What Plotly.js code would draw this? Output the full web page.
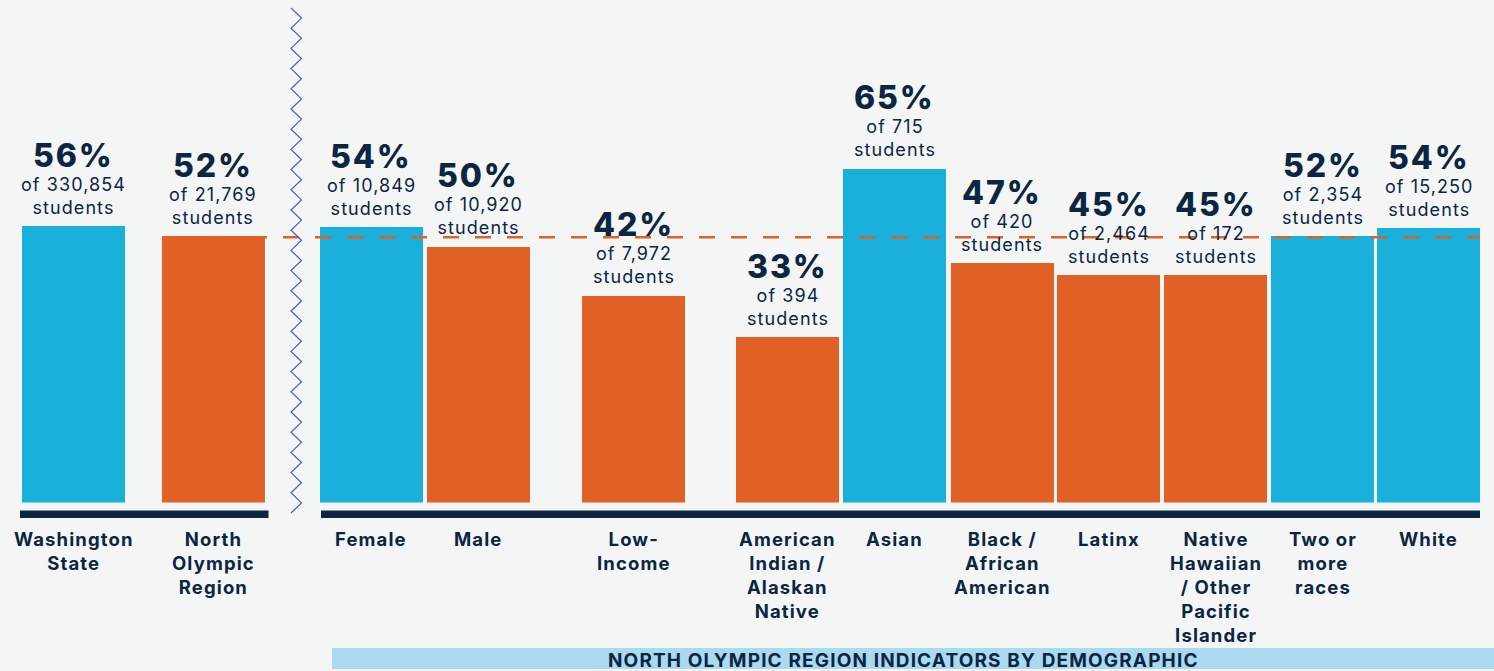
<!DOCTYPE html>
<html>
<head>
<meta charset="utf-8">
<script src="https://cdn.plot.ly/plotly-3.0.1.min.js"></script>
<style>
  html, body { margin: 0; padding: 0; background: #f4f6f5; }
  #chart { width: 1494px; height: 671px; }
  .annotation-text { letter-spacing: 0.06em; }
</style>
</head>
<body>
<div id="chart"></div>
<script>
// ---------- DATA ----------
const categories = [
  "Washington<br>State",
  "North<br>Olympic<br>Region",
  "Female",
  "Male",
  "Low-<br>Income",
  "American<br>Indian /<br>Alaskan<br>Native",
  "Asian",
  "Black /<br>African<br>American",
  "Latinx",
  "Native<br>Hawaiian<br>/ Other<br>Pacific<br>Islander",
  "Two or<br>more<br>races",
  "White"
];
// percentages as printed above the bars
const percentLabels = [56, 52, 54, 50, 42, 33, 65, 47, 45, 45, 52, 54];
// bar heights as drawn in the picture (percent)
const barHeights = [54.2, 52.25, 54.0, 50.1, 40.5, 32.45, 65.4, 46.95, 44.6, 44.6, 52.25, 53.8];
const studentCounts = ["330,854", "21,769", "10,849", "10,920", "7,972", "394", "715", "420", "2,464", "172", "2,354", "15,250"];
// blue = at/above the region rate, orange = region itself or below it
const colorGroup = ["high", "region", "high", "low", "low", "low", "high", "low", "low", "low", "high", "high"];
const regionValue = percentLabels[1];
const bandTitle = "NORTH OLYMPIC REGION INDICATORS BY DEMOGRAPHIC";

// ---------- LAYOUT CONSTANTS ----------
const W = 1494, H = 671;
const slotPos = [0, 1.308, 2.785, 3.785, 5.234, 6.673, 7.673, 8.682, 9.673, 10.673, 11.673, 12.664];
const barWidth = 0.9626;
const BLUE = "#19b0db", ORANGE = "#e06026", NAVY = "#0c2541", BG = "#f4f6f5";
const colorMap = { high: BLUE, low: ORANGE, region: ORANGE };
const FONT = "Inter, 'Noto Sans', sans-serif";
const PXPERUNIT = 5.1, BASE = 502.5;

const px = p => p / W;          // pixel x -> paper
const py = p => 1 - p / H;      // pixel y -> paper

const trace = {
  type: "bar",
  x: slotPos,
  y: barHeights,
  width: barWidth,
  marker: { color: colorGroup.map(g => colorMap[g]), line: { width: 0 } },
  hoverinfo: "skip"
};

const annotations = [];
barHeights.forEach((v, i) => {
  annotations.push({
    x: slotPos[i], y: v, xref: "x", yref: "y",
    text: percentLabels[i] + "%", showarrow: false,
    yanchor: "middle", yshift: 71,
    font: { family: FONT, size: 32, color: NAVY, weight: 800 }
  });
  annotations.push({
    x: slotPos[i], y: v, xref: "x", yref: "y",
    text: "of " + studentCounts[i] + "<br>students", showarrow: false,
    yanchor: "middle", yshift: 30.5,
    font: { family: FONT, size: 18, color: NAVY, weight: 400 }
  });
  annotations.push({
    x: slotPos[i], y: 0, xref: "x", yref: "y",
    text: categories[i], showarrow: false,
    yanchor: "top", yshift: -23,
    font: { family: FONT, size: 18.5, color: NAVY, weight: 700 }
  });
});
annotations.push({
  x: px(903), y: py(660), xref: "paper", yref: "paper",
  text: bandTitle, showarrow: false, xanchor: "center", yanchor: "middle",
  font: { family: FONT, size: 19, color: NAVY, weight: 700 }
});

// zigzag separator
let zz = "M " + px(291) + "," + py(8);
const zzTop = 8, zzBottom = 513, segs = 50;
for (let k = 1; k <= segs; k++) {
  const yy = zzTop + (zzBottom - zzTop) * k / segs;
  const xx = (k % 2 === 1) ? 301.5 : 291;
  zz += " L " + px(xx) + "," + py(yy);
}

const shapes = [
  // baselines
  { type: "rect", xref: "paper", yref: "paper", x0: px(20), x1: px(268.5), y0: py(518), y1: py(510.5),
    fillcolor: NAVY, line: { width: 0 }, layer: "above" },
  { type: "rect", xref: "paper", yref: "paper", x0: px(321), x1: px(1480), y0: py(518), y1: py(510.5),
    fillcolor: NAVY, line: { width: 0 }, layer: "above" },
  // region reference dashed line
  { type: "line", xref: "paper", yref: "y", x0: px(219), x1: px(1480), y0: regionValue, y1: regionValue,
    line: { color: ORANGE, width: 2.5, dash: "16px,16px" }, layer: "above" },
  // zigzag
  { type: "path", xref: "paper", yref: "paper", path: zz,
    line: { color: "#4a5cc2", width: 1.2 }, layer: "above" },
  // bottom band
  { type: "rect", xref: "paper", yref: "paper", x0: px(332), x1: 1, y0: py(669), y1: py(648),
    fillcolor: "#a9daef", line: { width: 0 }, layer: "below" }
];

const layout = {
  width: W, height: H,
  margin: { l: 0, r: 0, t: 0, b: 0, pad: 0 },
  paper_bgcolor: BG, plot_bgcolor: BG,
  showlegend: false,
  xaxis: { range: [-73.5 / 107, (W - 73.5) / 107], visible: false, fixedrange: true },
  yaxis: { range: [-(H - BASE) / PXPERUNIT, BASE / PXPERUNIT], visible: false, fixedrange: true },
  annotations: annotations,
  shapes: shapes
};

Plotly.newPlot("chart", [trace], layout, { displayModeBar: false, staticPlot: true });
</script>
</body>
</html>
